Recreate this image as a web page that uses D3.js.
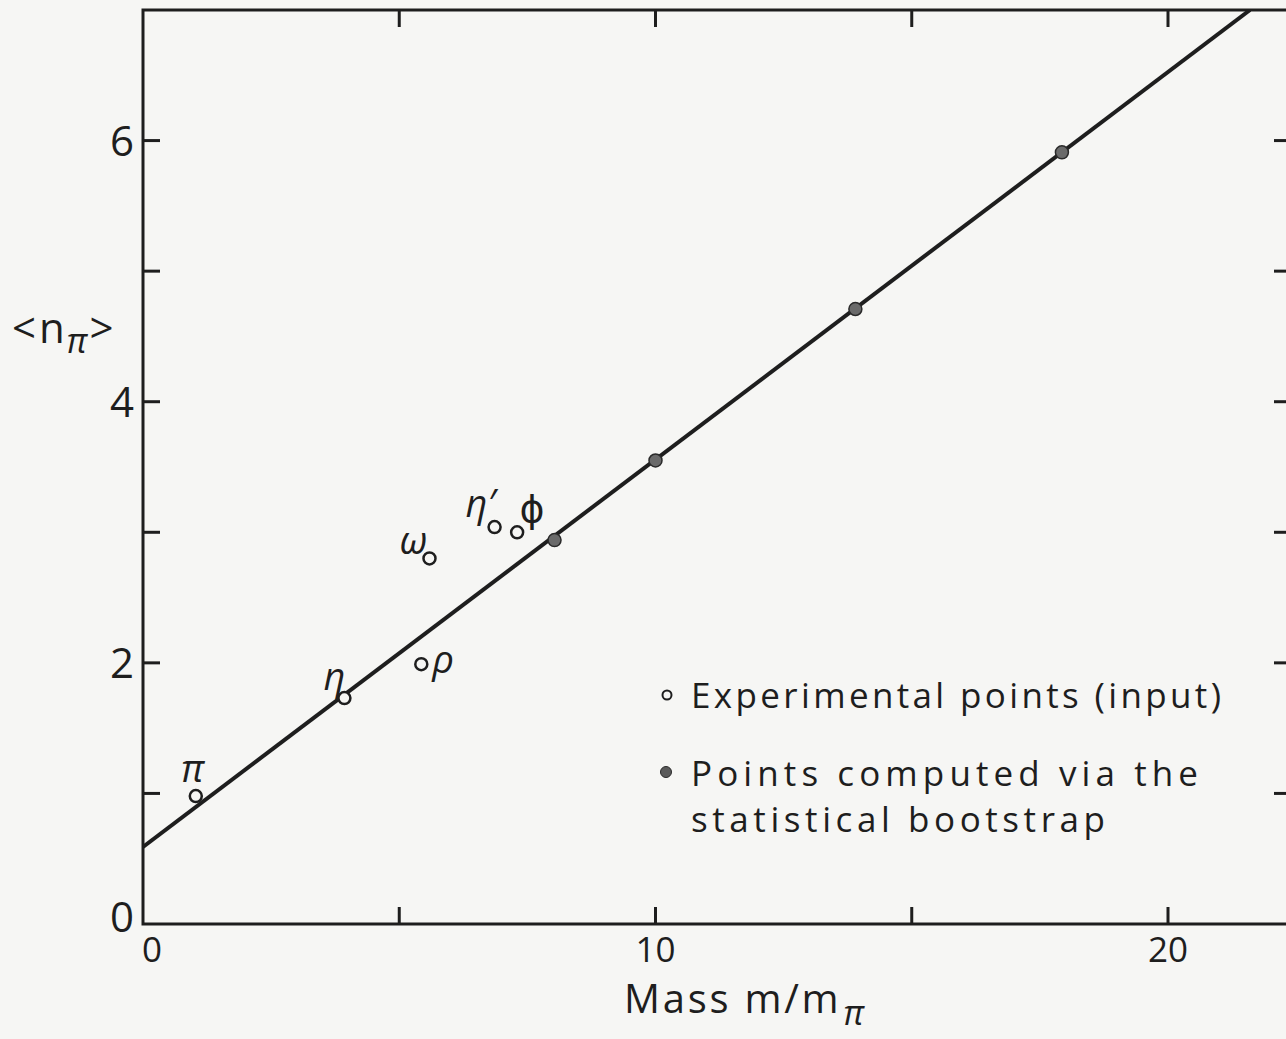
<!DOCTYPE html>
<html>
<head>
<meta charset="utf-8">
<script src="https://cdn.jsdelivr.net/npm/d3@7"></script>
<style>
  html, body { margin: 0; padding: 0; background: #f6f6f4; }
  svg { display: block; }
  text { font-family: "Open Sans", "DejaVu Sans", sans-serif; font-weight: 400; fill: #1e1e1e; }
</style>
</head>
<body>
<svg id="chart"></svg>
<script>
// experimental (input) points: mass in units of m_pi, mean pion multiplicity
const expNames = ["π", "η", "ρ", "ω", "η′", "ϕ"];
const expMass = [1.03, 3.93, 5.43, 5.59, 6.86, 7.3];
const expN = [0.98, 1.73, 1.99, 2.80, 3.04, 3.00];

// points computed via the statistical bootstrap
const bootMass = [8.03, 10.0, 13.9, 17.93];
const bootN = [2.94, 3.55, 4.71, 5.91];

// fitted straight line (end points)
const fitMass = [0, 21.6];
const fitN = [0.59, 7.0];

const xTicks = [0, 5, 10, 15, 20];
const xTickLabels = [0, 10, 20];
const yTicks = [1, 2, 3, 4, 5, 6];
const yTickLabels = [0, 2, 4, 6];

const legendLabels = [["Experimental points (input)"], ["Points computed via the", "statistical bootstrap"]];

const W = 1286, H = 1039;
const margin = { top: 10, left: 143, bottom: 115, right: -5 };

const svg = d3.select("#chart").attr("width", W).attr("height", H);

const x = d3.scaleLinear().domain([0, 22.4]).range([margin.left, W - margin.right]);
const y = d3.scaleLinear().domain([0, 7]).range([H - margin.bottom, margin.top]);

const ink = "#1e1e1e";
const paper = "#f6f6f4";
const tickLen = 17;

svg.append("defs").append("clipPath").attr("id", "plot")
  .append("rect")
  .attr("x", x(0)).attr("y", y(7))
  .attr("width", x(22.4) - x(0)).attr("height", y(0) - y(7));

// frame
const frame = svg.append("g").attr("stroke", ink).attr("stroke-width", 3).attr("fill", "none");
frame.append("path")
  .attr("d", `M${x(22.4)},${y(7)}H${x(0)}V${y(0)}H${x(22.4)}V${y(7)}`);

// x ticks bottom and top, inward
frame.selectAll(".xb").data(xTicks.filter(d => d > 0)).join("line")
  .attr("class", "xb")
  .attr("x1", d => x(d)).attr("x2", d => x(d))
  .attr("y1", y(0)).attr("y2", y(0) - tickLen);
frame.selectAll(".xt").data(xTicks.filter(d => d > 0)).join("line")
  .attr("class", "xt")
  .attr("x1", d => x(d)).attr("x2", d => x(d))
  .attr("y1", y(7)).attr("y2", y(7) + tickLen);

// y ticks left and right, inward
frame.selectAll(".yl").data(yTicks).join("line")
  .attr("class", "yl")
  .attr("x1", x(0)).attr("x2", x(0) + tickLen)
  .attr("y1", d => y(d)).attr("y2", d => y(d));
frame.selectAll(".yr").data(yTicks).join("line")
  .attr("class", "yr")
  .attr("x1", x(22.4)).attr("x2", x(22.4) - tickLen)
  .attr("y1", d => y(d)).attr("y2", d => y(d));

// tick labels
svg.selectAll(".xl").data(xTickLabels).join("text")
  .attr("class", "xl")
  .attr("x", d => x(d) + (d === 0 ? 9 : 0))
  .attr("y", y(0) + 38)
  .attr("text-anchor", "middle")
  .style("font-size", "35px")
  .text(d => d);

svg.selectAll(".ylab").data(yTickLabels).join("text")
  .attr("class", "ylab")
  .attr("x", x(0) - 9)
  .attr("y", d => y(d) + (d === 0 ? 8 : 15))
  .attr("text-anchor", "end")
  .style("font-size", "42px")
  .text(d => d);

// axis titles
const xt = svg.append("text")
  .attr("x", 624).attr("y", 1013)
  .attr("textLength", 240)
  .attr("lengthAdjust", "spacing")
  .style("font-size", "40px");
xt.append("tspan").text("Mass m/m");
xt.append("tspan").attr("dx", 2).attr("dy", 12).style("font-size", "34px").style("font-style", "italic").text("π");

const yt = svg.append("text")
  .attr("x", 12).attr("y", 343)
  .style("font-size", "42px");
yt.append("tspan").text("<");
yt.append("tspan").attr("dx", 3).text("n");
yt.append("tspan").attr("dx", 2).attr("dy", 10).style("font-size", "34px").style("font-style", "italic").text("π");
yt.append("tspan").attr("dx", 2).attr("dy", -10).text(">");

// fitted line
const line = d3.line().x(d => x(d[0])).y(d => y(d[1]));
svg.append("path")
  .datum(d3.zip(fitMass, fitN))
  .attr("clip-path", "url(#plot)")
  .attr("d", line)
  .attr("fill", "none")
  .attr("stroke", ink)
  .attr("stroke-width", 4);

// computed (filled) points
svg.selectAll(".boot").data(d3.zip(bootMass, bootN)).join("circle")
  .attr("class", "boot")
  .attr("cx", d => x(d[0])).attr("cy", d => y(d[1]))
  .attr("r", 6.5)
  .attr("fill", "#6a6a6a")
  .attr("stroke", "#2a2a2a")
  .attr("stroke-width", 1.5);

// experimental (open) points
const expData = expNames.map((n, i) => ({ name: n, m: expMass[i], n: expN[i] }));
svg.selectAll(".exp").data(expData).join("circle")
  .attr("class", "exp")
  .attr("cx", d => x(d.m)).attr("cy", d => y(d.n))
  .attr("r", 6)
  .attr("fill", paper)
  .attr("stroke", ink)
  .attr("stroke-width", 2.5);

// particle labels, offsets relative to each point
const labelOffset = {
  "π": [-3, -14, "middle"],
  "η": [-10, -8, "middle"],
  "ρ": [11, 9, "start"],
  "ω": [-16, -4, "middle"],
  "η′": [-14, -10, "middle"],
  "ϕ": [15, -10, "middle"]
};
svg.selectAll(".plab").data(expData).join("text")
  .attr("class", "plab")
  .attr("x", d => x(d.m) + labelOffset[d.name][0])
  .attr("y", d => y(d.n) + labelOffset[d.name][1])
  .attr("text-anchor", d => labelOffset[d.name][2])
  .style("font-size", "38px")
  .style("font-style", d => d.name === "ϕ" ? "normal" : "italic")
  .text(d => d.name);

// legend
const lg = svg.append("g");
lg.append("circle").attr("cx", 667).attr("cy", 695).attr("r", 4.5)
  .attr("fill", paper).attr("stroke", ink).attr("stroke-width", 2);
lg.append("circle").attr("cx", 666).attr("cy", 772).attr("r", 5.5)
  .attr("fill", "#5a5a5a").attr("stroke", "#2a2a2a").attr("stroke-width", 1);
const legendLines = [
  { t: legendLabels[0][0], y: 708, w: 530 },
  { t: legendLabels[1][0], y: 786, w: 507 },
  { t: legendLabels[1][1], y: 832, w: 414 }
];
lg.selectAll("text").data(legendLines).join("text")
  .attr("x", 691).attr("y", d => d.y)
  .attr("textLength", d => d.w)
  .attr("lengthAdjust", "spacing")
  .style("font-size", "35px")
  .text(d => d.t);
</script>
</body>
</html>
